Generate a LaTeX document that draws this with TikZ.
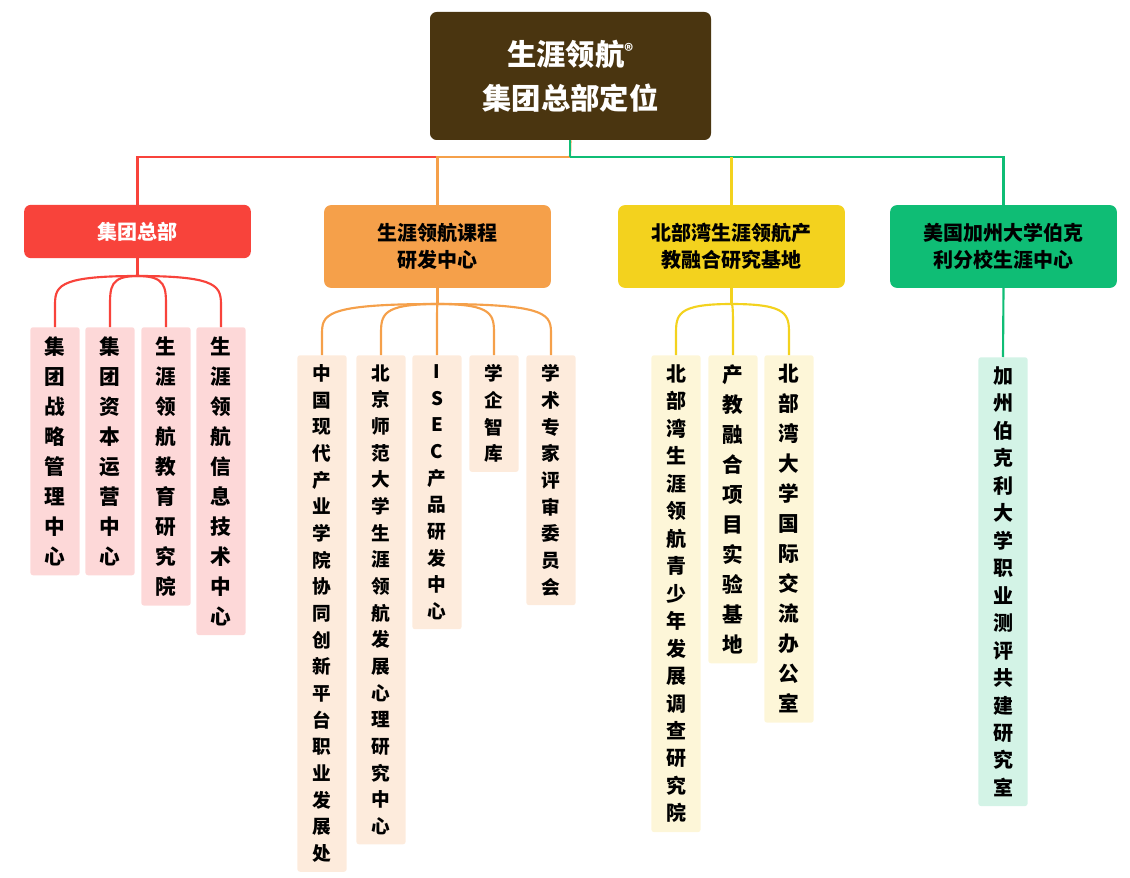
\documentclass[tikz,border=0pt]{standalone}
\usepackage{fontspec}
\setmainfont{Noto Sans CJK SC}
\definecolor{rootc}{HTML}{4A3510}
\definecolor{redc}{HTML}{F8433B}
\definecolor{orc}{HTML}{F5A04A}
\definecolor{yelc}{HTML}{F3D21E}
\definecolor{grc}{HTML}{0FBD75}
\definecolor{redl}{HTML}{FDD8D8}
\definecolor{orl}{HTML}{FDEBDC}
\definecolor{yell}{HTML}{FDF6D8}
\definecolor{grl}{HTML}{D3F3E6}
\tikzset{
 lvtwo/.style={fill=#1, rounded corners=5pt, minimum width=170pt, align=center, font=\bfseries\fontsize{15}{20}\selectfont, inner sep=0pt},
 leaf/.style={fill=#1, rounded corners=2pt, minimum width=37pt, text width=20pt, inner xsep=0pt, inner ysep=7pt, anchor=north, align=center},
 fbig/.style={font=\bfseries\fontsize{15.5}{22.5}\selectfont},
 fsmall/.style={font=\bfseries\fontsize{14}{20}\selectfont},
 fmid/.style={font=\bfseries\fontsize{15}{20.6}\selectfont},
 conn/.style={line width=1.6pt, draw=#1},
}
\begin{document}
\begin{tikzpicture}[x=0.75pt,y=-0.75pt]
\useasboundingbox (0,0) rectangle (1130,877);
% root
\node[fill=rootc, rounded corners=5pt, minimum width=210.75pt, minimum height=96pt, text=white, align=center, font=\bfseries\fontsize{22}{33}\selectfont] (root) at (570.5,76) {生涯领航\raisebox{0.5ex}{\fontsize{13}{13}\selectfont®}\\集团总部定位};
% level two
\node[lvtwo=redc, minimum height=40pt, text=white] (a) at (137.5,231.5) {集团总部};
\node[lvtwo=orc, minimum height=62pt] (b) at (437.5,246.5) {生涯领航课程\\研发中心};
\node[lvtwo=yelc, minimum height=62pt] (c) at (731.5,246.5) {北部湾生涯领航产\\教融合研究基地};
\node[lvtwo=grc, minimum height=62pt] (d) at (1003.5,246.5) {美国加州大学伯克\\利分校生涯中心};
% bus
\coordinate (bus) at (570,157);
\draw[conn=redc] (a.north) |- (438,157);
\draw[conn=orc] (b.north) |- (bus);
\draw[conn=orc] (root.south) -- (bus);
\draw[conn=grc] (bus) -| (d.north);
\draw[conn=grc] (570,140) -- (bus);
\draw[conn=yelc] (c.north) -- (731.5,157);
% leaves red
\node[leaf=redl, fbig] (a1) at (55,327) {集\\团\\战\\略\\管\\理\\中\\心};
\node[leaf=redl, fbig] (a2) at (110,327) {集\\团\\资\\本\\运\\营\\中\\心};
\node[leaf=redl, fbig] (a3) at (166,327) {生\\涯\\领\\航\\教\\育\\研\\究\\院};
\node[leaf=redl, fbig] (a4) at (221,327) {生\\涯\\领\\航\\信\\息\\技\\术\\中\\心};
% leaves orange
\node[leaf=orl, fsmall] (b1) at (322,355) {中\\国\\现\\代\\产\\业\\学\\院\\协\\同\\创\\新\\平\\台\\职\\业\\发\\展\\处};
\node[leaf=orl, fsmall] (b2) at (381,355) {北\\京\\师\\范\\大\\学\\生\\涯\\领\\航\\发\\展\\心\\理\\研\\究\\中\\心};
\node[leaf=orl, fsmall] (b3) at (437,355) {I\\S\\E\\C\\产\\品\\研\\发\\中\\心};
\node[leaf=orl, fsmall] (b4) at (494,355) {学\\企\\智\\库};
\node[leaf=orl, fsmall] (b5) at (551,355) {学\\术\\专\\家\\评\\审\\委\\员\\会};
% leaves yellow
\node[leaf=yell, fmid] (c1) at (676,355) {北\\部\\湾\\生\\涯\\领\\航\\青\\少\\年\\发\\展\\调\\查\\研\\究\\院};
\node[leaf=yell, fbig] (c2) at (733,355) {产\\教\\融\\合\\项\\目\\实\\验\\基\\地};
\node[leaf=yell, fbig] (c3) at (789,355) {北\\部\\湾\\大\\学\\国\\际\\交\\流\\办\\公\\室};
% leaf green
\node[leaf=grl, fmid] (d1) at (1003,357) {加\\州\\伯\\克\\利\\大\\学\\职\\业\\测\\评\\共\\建\\研\\究\\室};
% connectors
\coordinate (as) at (137.5,276);
\draw[conn=redc] (a.south) -- (as);
\foreach \n in {a1,a2,a3,a4}{
  \draw[conn=redc] (as) .. controls (as -| \n.north) and ([yshift=30]\n.north) .. ([yshift=15]\n.north) -- (\n.north);}
\coordinate (bs) at (437.5,304);
\draw[conn=orc] (b.south) -- (bs);
\foreach \n in {b1,b2,b3,b4,b5}{
  \draw[conn=orc] (bs) .. controls (bs -| \n.north) and ([yshift=30]\n.north) .. ([yshift=15]\n.north) -- (\n.north);}
\coordinate (cs) at (731.5,304);
\draw[conn=yelc] (c.south) -- (cs);
\foreach \n in {c1,c2,c3}{
  \draw[conn=yelc] (cs) .. controls (cs -| \n.north) and ([yshift=30]\n.north) .. ([yshift=15]\n.north) -- (\n.north);}
\draw[conn=grc] (d.south) -- (d1.north);
\end{tikzpicture}
\end{document}
